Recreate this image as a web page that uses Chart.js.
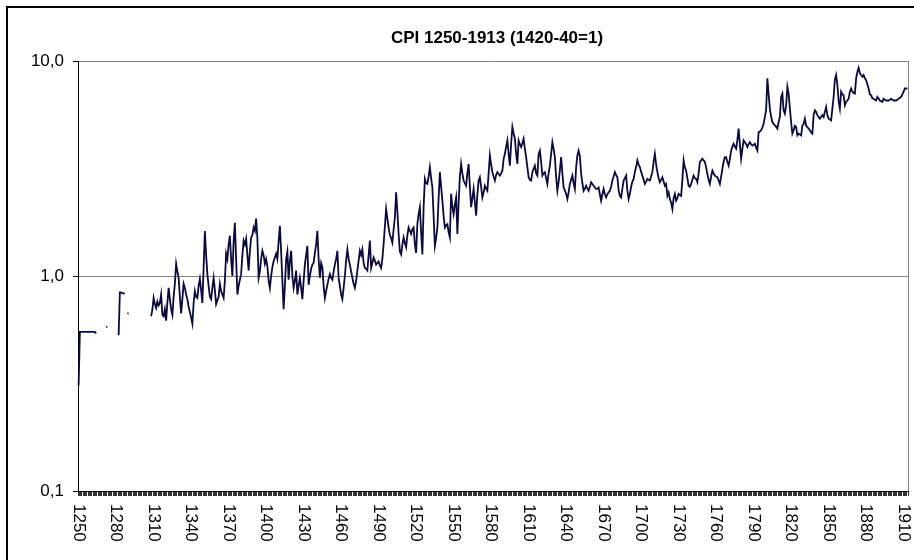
<!DOCTYPE html>
<html>
<head>
<meta charset="utf-8">
<script src="https://cdn.jsdelivr.net/npm/chart.js@4.4.1/dist/chart.umd.min.js"></script>
<style>
  html, body { margin: 0; padding: 0; background: #fff; }
  #wrap { width: 914px; height: 560px; position: relative; }
</style>
</head>
<body>
<div id="wrap"><canvas id="cpi-chart" width="914" height="560"></canvas></div>
<script>
const TITLE = 'CPI 1250-1913 (1420-40=1)';
const FIRST_YEAR = 1250;
const LAST_YEAR = 1913;
const xTickYears = [1250, 1280, 1310, 1340, 1370, 1400, 1430, 1460, 1490, 1520, 1550, 1580,
  1610, 1640, 1670, 1700, 1730, 1760, 1790, 1820, 1850, 1880, 1910];
const yTicks = [0.1, 1, 10];

// 1250-1307 (sparse, gaps = no data)
const cpi1250 = [
  0.31, 0.55, 0.55, 0.55, 0.55, 0.55, 0.55, 0.55, 0.55, 0.55, 0.55, 0.55, 0.55, 0.55, 0.54,
  null, null, null, null, null, null, null,
  0.58, 0.58,
  null, null, null, null, null, null, null, null,
  0.53, 0.84, 0.84, 0.83, 0.83, 0.83,
  null,
  0.67, 0.67,
  null, null, null, null, null, null, null, null, null, null, null, null, null, null, null, null, null
];
// 1308-1411
const cpi1308 = [
  0.65, 0.70, 0.79, 0.74, 0.71, 0.76, 0.73, 0.75, 0.82, 0.66,
  0.65, 0.70, 0.62, 0.75, 0.88, 0.78, 0.70, 0.66, 0.80, 0.92,
  1.14, 1.05, 0.98, 0.80, 0.67, 0.78, 0.92, 0.88, 0.82, 0.78,
  0.72, 0.68, 0.64, 0.60, 0.75, 0.85, 0.80, 0.79, 0.90, 0.97,
  0.86, 0.75, 1.10, 1.62, 1.25, 1.02, 0.90, 0.80, 0.78, 0.88,
  0.98, 0.86, 0.74, 0.77, 0.80, 0.92, 0.85, 0.82, 0.79, 0.95,
  1.27, 1.20, 1.40, 1.54, 1.20, 1.00, 1.45, 1.77, 1.20, 0.82,
  0.90, 0.96, 1.02, 1.25, 1.46, 1.40, 1.49, 1.25, 1.06, 1.30,
  1.51, 1.55, 1.68, 1.62, 1.85, 1.50, 0.98, 1.05, 1.20, 1.31,
  1.25, 1.14, 1.20, 1.11, 0.95, 0.88, 1.00, 1.10, 1.17, 1.22,
  1.27, 1.20, 1.45, 1.71
];
// 1412-1504
const cpi1412 = [
  1.30, 0.95, 0.70, 0.90, 1.20, 1.30, 0.96, 1.17, 1.31, 1.00,
  0.88, 0.95, 1.06, 0.82, 0.90, 0.98, 0.88, 0.78, 0.95, 1.13,
  1.25, 1.38, 0.91, 1.00, 1.08, 1.13, 1.15, 1.28, 1.40, 1.62,
  1.20, 0.98, 1.15, 1.10, 0.90, 0.79, 0.85, 0.91, 0.97, 1.02,
  0.98, 0.96, 1.05, 1.13, 1.20, 1.31, 0.98, 0.90, 0.82, 0.78,
  0.88, 1.00, 1.18, 1.33, 1.20, 1.13, 1.05, 0.98, 0.92, 0.88,
  0.95,
  1.06, 1.18, 1.31, 1.25, 1.33, 1.15, 1.09, 1.08, 1.06, 1.25,
  1.46, 1.09, 1.15, 1.22, 1.18, 1.13, 1.15, 1.17, 1.12, 1.09,
  1.20, 1.41, 1.70, 2.05, 1.85, 1.68, 1.55, 1.50, 1.43, 1.65,
  1.87, 2.45
];
// 1505-1612
const cpi1505 = [
  2.00, 1.57, 1.30, 1.26, 1.40, 1.51, 1.42, 1.36, 1.55, 1.68,
  1.62, 1.57, 1.65, 1.68, 1.40, 1.28, 1.75, 1.94, 2.09, 1.60,
  1.26, 2.10, 2.83, 2.70, 2.68, 2.90, 3.21, 2.85, 2.58, 1.90,
  1.38, 1.50, 1.68, 2.30, 3.04, 2.60, 2.24, 1.90, 1.68, 1.72,
  1.74, 1.60, 1.51, 2.41, 2.10, 1.94, 2.15, 2.32, 1.57, 2.20,
  2.90, 3.32, 3.00, 2.78, 2.70, 2.63, 3.00, 3.32, 2.60, 2.09,
  2.30, 2.54, 2.20, 1.91, 2.40, 2.78, 2.88, 2.60, 2.32, 2.45,
  2.63, 2.55, 2.49, 3.00, 3.64, 3.30, 3.04, 2.90, 2.78, 2.95,
  3.04, 2.98, 2.93, 3.00, 3.09, 3.50, 3.70, 4.00, 4.27, 3.70,
  3.26, 4.12, 4.93, 4.60, 4.35, 3.70, 3.32, 4.27, 4.10, 3.98,
  4.15, 4.35, 3.90, 3.57, 3.20, 2.88, 2.80, 2.78
];
// 1613-1719
const cpi1613 = [
  3.04, 3.15, 3.26, 3.00, 2.93, 3.70, 3.83, 3.40, 2.93, 3.00,
  3.04, 2.85, 2.68, 3.00, 3.26, 3.70, 4.19, 3.90, 3.57, 2.90,
  2.49, 2.73, 3.10, 3.57, 3.00, 2.58, 2.50, 2.41, 2.28, 2.45,
  2.68, 2.80, 2.93, 2.70, 2.54, 3.20, 3.64, 3.83, 3.60, 3.00,
  2.70,
  2.49, 2.55, 2.63, 2.55, 2.49, 2.60, 2.73, 2.68, 2.63, 2.58,
  2.54, 2.55, 2.58, 2.40, 2.24, 2.40, 2.54, 2.40, 2.32, 2.40,
  2.45, 2.49, 2.60, 2.78, 2.90, 3.04, 2.95, 2.88, 2.50, 2.36,
  2.32, 2.55, 2.78, 2.85, 2.93, 2.50, 2.28, 2.41, 2.60, 2.75,
  2.83, 3.05, 3.21, 3.45, 3.30, 3.21, 3.05, 2.93, 2.80, 2.68,
  2.75, 2.83, 2.80, 2.78, 2.90, 3.04, 3.40, 3.70, 3.30, 3.04,
  2.85, 2.73, 2.80, 2.88, 2.75, 2.63
];
// 1720-1913
const cpi1720 = [
  2.68, 2.36, 2.45, 2.28, 2.20, 2.05, 2.30, 2.41, 2.24, 2.30,
  2.41, 2.38, 2.36, 2.80, 3.45, 3.20, 3.09, 2.85, 2.63, 2.60,
  2.68, 2.80, 2.93, 2.85, 2.83, 2.73, 3.00, 3.39, 3.45, 3.51,
  3.45, 3.39, 3.20, 2.98, 2.80, 2.68, 2.90, 3.09, 3.00, 2.93,
  2.90, 2.88, 2.78, 2.68, 2.90, 3.15, 3.40, 3.57, 3.57, 3.40,
  3.26, 3.50, 3.83, 4.00, 4.12, 4.00, 3.91, 4.30, 4.85, 4.10,
  3.51, 3.90, 4.27, 4.19, 4.10, 3.98, 4.10, 4.19, 4.10, 4.04,
  4.08, 4.12, 3.95, 3.83, 4.67, 4.70, 4.76, 4.90, 5.10, 5.50,
  5.90, 8.30, 7.00, 6.00, 5.50, 5.20, 5.10, 5.02, 4.95, 4.85,
  5.20, 5.49, 6.80, 7.05, 5.90, 5.69, 6.20, 7.59, 7.05, 6.00,
  5.20, 4.60, 4.76, 5.00, 4.93, 4.51, 4.59, 4.55, 4.51, 5.00,
  5.10, 5.39, 5.00, 4.93, 4.85, 4.76, 4.65, 4.59, 5.60, 5.90,
  5.80, 5.60, 5.49, 5.39, 5.50, 5.60, 5.49, 5.80, 6.11, 5.60,
  5.39, 5.35, 5.30, 6.00, 6.80, 8.20, 8.60, 7.74, 6.50, 6.00,
  7.20, 7.00, 6.93, 6.22, 6.45, 6.55, 6.68, 7.20, 7.45, 7.20,
  7.10, 7.05, 8.30, 8.90, 9.30, 8.77, 8.60, 8.45, 8.60, 8.30,
  8.15, 7.80, 7.45, 7.00, 6.93, 6.70, 6.68, 6.60, 6.55, 6.81,
  6.70, 6.55, 6.50, 6.45, 6.68, 6.60, 6.55, 6.55, 6.55, 6.60,
  6.68, 6.60, 6.55, 6.55, 6.55, 6.60, 6.68, 6.75, 6.81, 7.00,
  7.20, 7.45, 7.45, 7.45
];

const years = [];
for (let y = FIRST_YEAR; y <= LAST_YEAR; y++) years.push(String(y));
const cpi = [].concat(cpi1250, cpi1308, cpi1412, cpi1505, cpi1613, cpi1720);
if (cpi.length !== years.length) console.error('length mismatch', cpi.length, years.length);

const FONT = "'Liberation Sans', Arial, sans-serif";

// frame, title, right border and rotated year labels
const decor = {
  id: 'decor',
  afterDraw(chart) {
    const ctx = chart.ctx, area = chart.chartArea, xs = chart.scales.x;
    ctx.save();
    ctx.strokeStyle = '#000';
    ctx.lineWidth = 2;
    ctx.strokeRect(7, 7, 1000, 1000);

    ctx.strokeStyle = '#808080';
    ctx.lineWidth = 1;
    ctx.beginPath();
    ctx.moveTo(area.right + 0.5, area.top);
    ctx.lineTo(area.right + 0.5, area.bottom);
    ctx.stroke();

    ctx.fillStyle = '#000';
    ctx.font = 'bold 17px ' + FONT;
    ctx.textAlign = 'center';
    ctx.textBaseline = 'middle';
    ctx.fillText(TITLE, 497, 38);

    ctx.font = '17px ' + FONT;
    ctx.textAlign = 'left';
    xTickYears.forEach(yr => {
      const x = xs.getPixelForValue(years.indexOf(String(yr)));
      ctx.save();
      ctx.translate(x, area.bottom + 13);
      ctx.rotate(Math.PI / 2);
      ctx.fillText(String(yr), 0, 0);
      ctx.restore();
    });
    ctx.restore();
  }
};

new Chart(document.getElementById('cpi-chart').getContext('2d'), {
  type: 'line',
  data: {
    labels: years,
    datasets: [{
      label: 'CPI',
      data: cpi,
      borderColor: '#0a0a3c',
      borderWidth: 1.8,
      pointRadius: 0,
      fill: false,
      tension: 0,
      spanGaps: false
    }]
  },
  options: {
    responsive: false,
    animation: false,
    devicePixelRatio: 1,
    layout: { padding: { left: 0, right: 6, top: 61, bottom: 0 } },
    plugins: { legend: { display: false }, tooltip: { enabled: false }, title: { display: false } },
    scales: {
      x: {
        type: 'category',
        offset: true,
        grid: { drawOnChartArea: false, drawTicks: true, tickLength: 5, color: '#000', tickColor: '#333', offset: true },
        border: { color: '#000', width: 1 },
        ticks: { display: false, autoSkip: false },
        afterFit: s => { s.height = 69; }
      },
      y: {
        type: 'logarithmic',
        min: 0.1,
        max: 10,
        afterBuildTicks: s => { s.ticks = yTicks.map(v => ({ value: v })); },
        grid: { color: '#808080', tickColor: '#000', tickLength: 5, lineWidth: 1 },
        border: { color: '#000', width: 1 },
        ticks: {
          padding: 9,
          color: '#000',
          font: { family: FONT, size: 17 },
          callback: v => Number(v).toFixed(1).replace('.', ',')
        },
        afterFit: s => { s.width = 78; }
      }
    }
  },
  plugins: [decor]
});
</script>
</body>
</html>
